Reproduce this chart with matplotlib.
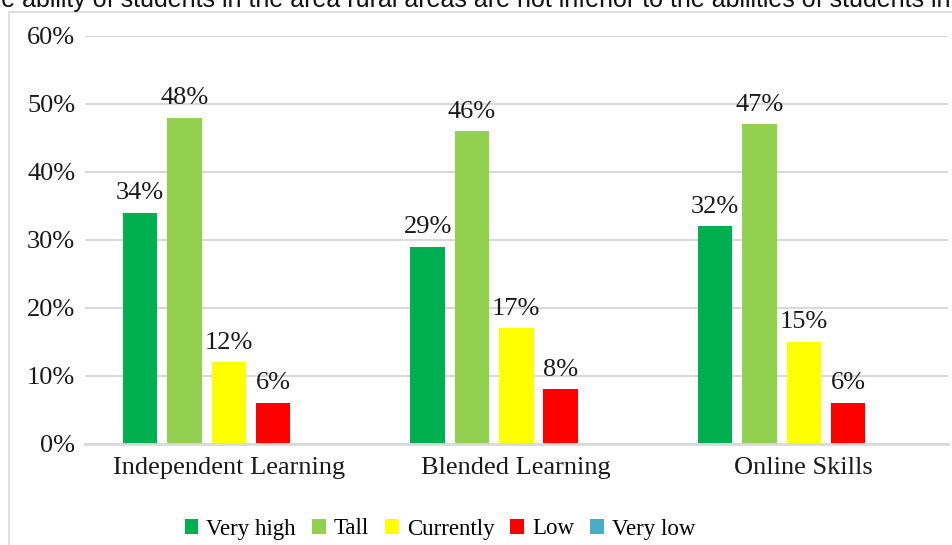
import numpy as np
import matplotlib
matplotlib.use("Agg")
import matplotlib.pyplot as plt
from matplotlib.patches import Rectangle

# data
categories = ["Independent Learning", "Blended Learning", "Online Skills"]
series_names = ["Very high", "Tall", "Currently", "Low", "Very low"]
very_high = [34, 29, 32]
tall = [48, 46, 47]
currently = [12, 17, 15]
low = [6, 8, 6]
very_low = [0, 0, 0]
colors = ["#00B050", "#92D050", "#FFFF00", "#FF0000", "#4BACC6"]
yticks = [0, 10, 20, 30, 40, 50, 60]
title_text = "The ability of students in the area rural areas are not inferior to the abilities of students in"

W, H = 952, 545
fig = plt.figure(figsize=(W / 100, H / 100), dpi=100)

serif = ["Liberation Serif", "DejaVu Serif"]
fs = 19

# axes placed in pixel terms
left, right, top, bottom = 85, 947.5, 36, 443.5
ax = fig.add_axes([left / W, 1 - bottom / H, (right - left) / W, (bottom - top) / H])

x = np.arange(len(categories))
step = 0.154
width = 0.12
all_series = [very_high, tall, currently, low, very_low]
for i, (name, vals) in enumerate(zip(series_names, all_series)):
    pos = x + (i - 2) * step
    bars = ax.bar(pos, vals, width, color=colors[i], label=name, zorder=3)
    if name != "Very low":
        for b, v in zip(bars, vals):
            ax.annotate(f"{v}%", (b.get_x() + b.get_width() / 2, v),
                        xytext=(0, 6), textcoords="offset points",
                        ha="center", va="bottom", fontsize=fs, family=serif,
                        color="#1a1a1a")

ax.set_xlim(-0.5, len(categories) - 0.5)
ax.set_ylim(0, 60)
ax.set_yticks(yticks)
ax.set_yticklabels([f"{t}%" for t in yticks], fontsize=fs, family=serif)
ax.set_xticks(x)
ax.set_xticklabels(categories, fontsize=fs, family=serif)
ax.tick_params(axis="both", length=0, colors="#1a1a1a")
ax.tick_params(axis="y", pad=7)
ax.tick_params(axis="x", pad=10)
ax.grid(axis="y", color="#d9d9d9", linewidth=1.5, zorder=0)
for s in ["top", "right", "left"]:
    ax.spines[s].set_visible(False)
ax.spines["bottom"].set_color("#d9d9d9")
ax.spines["bottom"].set_linewidth(2)
ax.spines["bottom"].set_zorder(4)

# legend below the plot
ax.legend(loc="center", bbox_to_anchor=(440 / W, 1 - 529 / H),
          bbox_transform=fig.transFigure, ncol=5, frameon=False,
          prop={"family": serif, "size": 16.5}, handlelength=0.6,
          handleheight=0.6, handletextpad=0.35, columnspacing=0.7)

# chart area border (runs off right and bottom of the crop)
fig.patches.append(Rectangle((8.5 / W, -0.05), 1.0, 1 - 11.5 / H + 0.05,
                             transform=fig.transFigure, fill=False,
                             edgecolor="#d9d9d9", linewidth=1.2))

# caption text cut off at the top of the crop
tfs = 18
renderer = fig.canvas.get_renderer()
probe = fig.text(0, 0, "Th", fontsize=tfs, family=["Liberation Sans", "DejaVu Sans"])
off = probe.get_window_extent(renderer).width
probe.remove()
fig.text(-(off - 1) / W, 1 - 7 / H, title_text, fontsize=tfs,
         family=["Liberation Sans", "DejaVu Sans"], ha="left", va="baseline",
         color="#111111")

fig.savefig("out.png", dpi=100)
